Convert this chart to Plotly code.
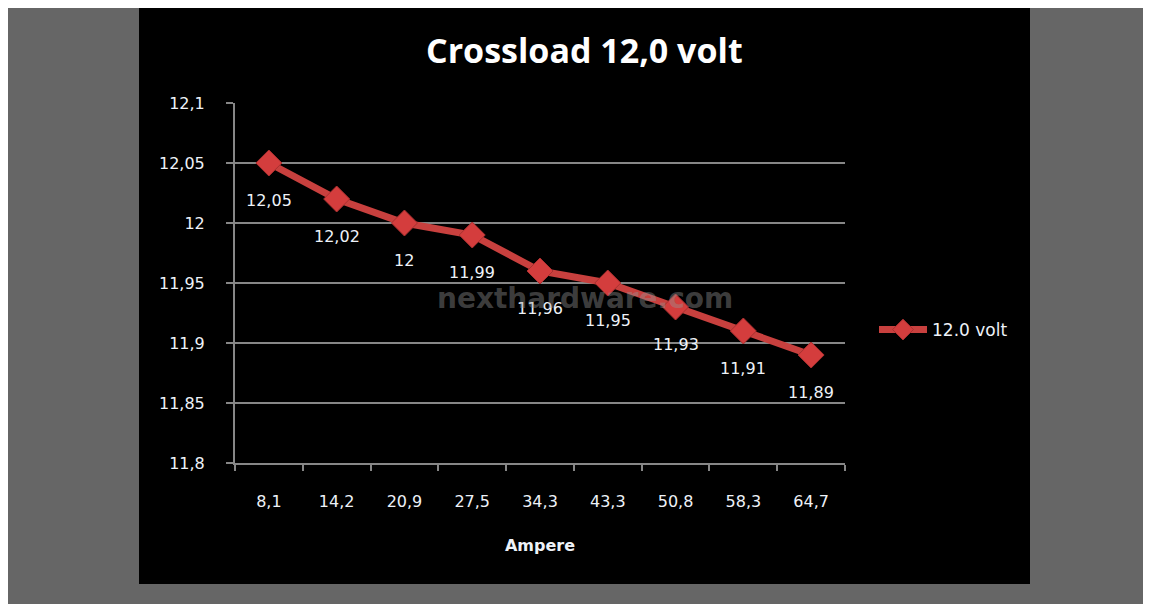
import plotly.graph_objects as go

categories = ["8,1", "14,2", "20,9", "27,5", "34,3", "43,3", "50,8", "58,3", "64,7"]
volts = [12.05, 12.02, 12.00, 11.99, 11.96, 11.95, 11.93, 11.91, 11.89]
value_labels = ["12,05", "12,02", "12", "11,99", "11,96", "11,95", "11,93", "11,91", "11,89"]
y_tickvals = [11.8, 11.85, 11.9, 11.95, 12.0, 12.05, 12.1]
y_ticktext = ["11,8", "11,85", "11,9", "11,95", "12", "12,05", "12,1"]
series_name = "12.0 volt"
title_text = "Crossload 12,0 volt"
x_title = "Ampere"
watermark = "nexthardware.com"

# figure is placed at (8, 8) in the page by the body margin
W, H = 1160, 600
PL, PR, PT, PB = 227, 837, 95, 455  # plot area edges in figure pixels
PW, PH = PR - PL, PB - PT

def px(x):
    return (x - PL) / PW

def py(y):
    return (PB - y) / PH

LINE = "#c8403e"
GRID = "#868686"
TXT = "#eef2f8"
FONT = "DejaVu Sans"

fig = go.Figure()
fig.add_trace(go.Scatter(
    x=categories, y=volts, name=series_name, mode="lines+markers",
    line=dict(color=LINE, width=7),
    marker=dict(symbol="diamond", size=20, color="#d43d3d", line=dict(color="#a83030", width=1)),
))

annotations = []
for c, v, t in zip(categories, volts, value_labels):
    annotations.append(dict(x=c, y=v, text=t, showarrow=False, xref="x", yref="y",
                            yshift=-37, font=dict(family=FONT, size=16, color=TXT)))
annotations.append(dict(x=px(577), y=py(290), xref="paper", yref="paper", text="<b>%s</b>" % watermark,
                        showarrow=False, yanchor="middle",
                        font=dict(family="DejaVu Sans", size=28, color="rgba(150,150,150,0.42)")))
annotations.append(dict(x=px(576), y=py(42), xref="paper", yref="paper",
                        text="<b>%s</b>" % title_text, showarrow=False, yanchor="middle",
                        font=dict(family="Open Sans", size=34, color="#ffffff")))

shapes = [
    dict(type="rect", xref="paper", yref="paper", layer="below", line=dict(width=0), fillcolor="#000000",
         x0=px(131), x1=px(1022), y0=py(576), y1=py(0)),
]

fig.update_layout(
    width=W, height=H,
    margin=dict(l=PL, r=W - PR, t=PT, b=H - PB),
    paper_bgcolor="#666666", plot_bgcolor="#404040",
    showlegend=True,
    legend=dict(x=px(866), y=py(322), xanchor="left", yanchor="middle", itemwidth=48,
                bgcolor="rgba(0,0,0,0)", font=dict(family=FONT, size=17, color=TXT)),
    annotations=annotations, shapes=shapes,
    xaxis=dict(type="category", range=[-0.5, len(categories) - 0.5], tickson="boundaries",
               ticks="outside", ticklen=6, tickcolor=GRID,
               tickwidth=2, showline=True, linecolor=GRID, linewidth=2, showgrid=False, zeroline=False,
               ticklabelstandoff=23,
               tickfont=dict(family=FONT, size=16, color=TXT),
               title=dict(text="<b>%s</b>" % x_title, font=dict(family=FONT, size=16, color=TXT), standoff=30)),
    yaxis=dict(range=[11.8, 12.1], tickvals=y_tickvals, ticktext=y_ticktext, ticks="outside", ticklen=7,
               tickcolor=GRID, tickwidth=2, showline=True, linecolor=GRID, linewidth=2, showgrid=True,
               gridcolor=GRID, gridwidth=1.5, zeroline=False, ticklabelstandoff=18,
               tickfont=dict(family=FONT, size=16, color=TXT)),
)

fig.write_html("out.html")
